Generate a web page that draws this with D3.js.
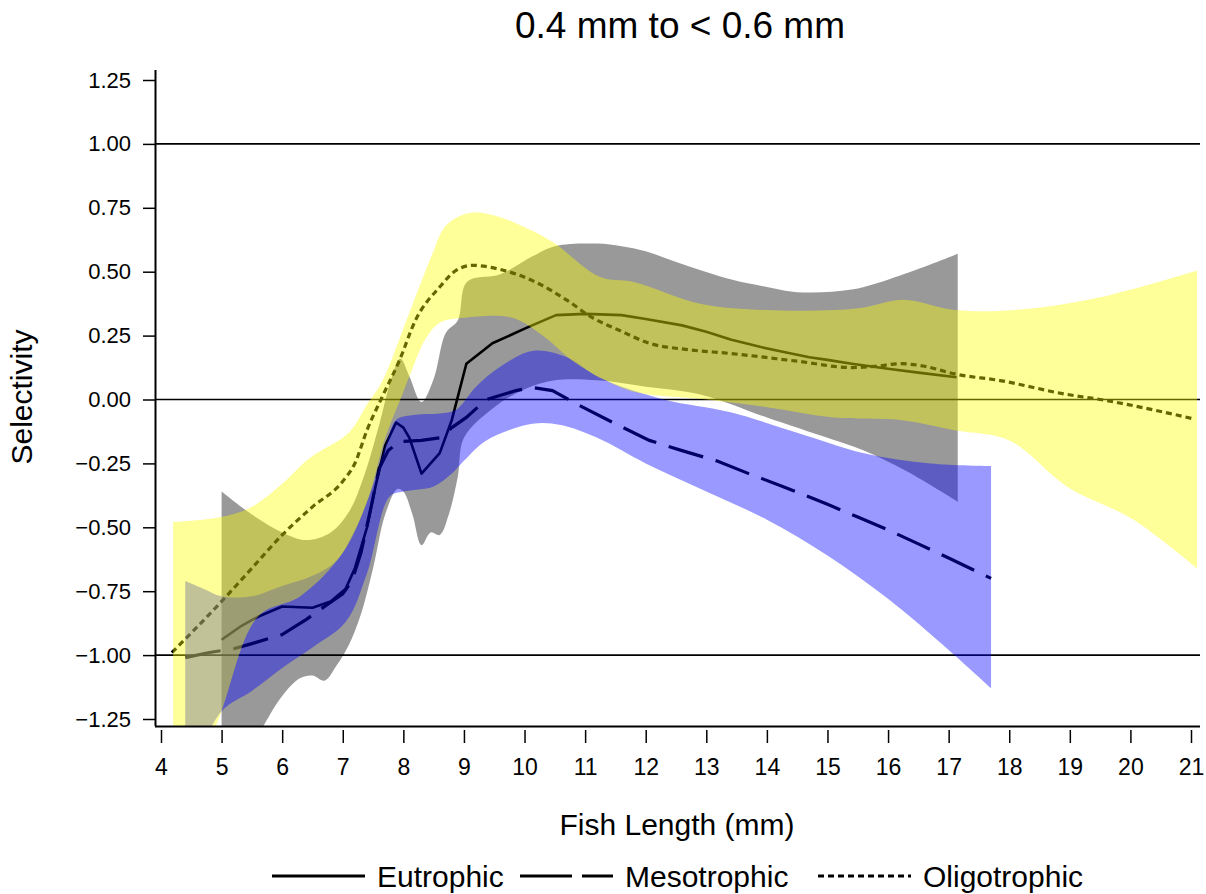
<!DOCTYPE html>
<html><head><meta charset="utf-8">
<script src="https://cdn.jsdelivr.net/npm/d3@7"></script>
<style>
html,body{margin:0;padding:0;background:#fff;}
svg{display:block;font-family:"Liberation Sans",Arial,Helvetica,sans-serif;}
</style></head>
<body>
<svg id="chart" width="1206" height="894"></svg>
<script>
// ---------------- data ----------------
const title = "0.4 mm to < 0.6 mm";
const xTicks = [4,5,6,7,8,9,10,11,12,13,14,15,16,17,18,19,20,21];
const yTicks = [-1.25,-1.00,-0.75,-0.50,-0.25,0.00,0.25,0.50,0.75,1.00,1.25];
const refLines = [-1, 0, 1];
const seriesNames = ["Eutrophic","Mesotrophic","Oligotrophic"];

const eutroLine = [[5.0,-0.94],[5.3,-0.89],[5.6,-0.85],[6.0,-0.81],[6.5,-0.815],[6.8,-0.79],[7.05,-0.74],[7.2,-0.66],[7.4,-0.50],[7.55,-0.33],[7.7,-0.18],[7.88,-0.09],[8.0,-0.11],[8.1,-0.15],[8.3,-0.29],[8.6,-0.21],[8.8,-0.08],[9.04,0.14],[9.47,0.22],[10.03,0.28],[10.52,0.33],[11.0,0.335],[11.6,0.33],[12.0,0.315],[12.6,0.29],[13.0,0.265],[13.4,0.235],[13.9,0.205],[14.3,0.185],[14.7,0.165],[15.0,0.155],[15.4,0.14],[16.0,0.12],[16.5,0.105],[17.13,0.087]];
const mesoLine = [[4.4,-1.01],[4.8,-0.99],[5.2,-0.975],[5.5,-0.955],[6.0,-0.92],[6.4,-0.86],[6.7,-0.81],[7.0,-0.76],[7.15,-0.71],[7.3,-0.6],[7.45,-0.44],[7.6,-0.27],[7.75,-0.2],[7.93,-0.165],[8.3,-0.16],[8.6,-0.15],[8.8,-0.11],[9.04,-0.07],[9.37,0.0],[9.86,0.035],[10.13,0.047],[10.46,0.035],[10.96,-0.03],[11.5,-0.095],[12.06,-0.16],[12.6,-0.2],[13.17,-0.24],[13.7,-0.29],[14.26,-0.34],[15.0,-0.41],[15.5,-0.46],[16.0,-0.51],[16.5,-0.565],[17.0,-0.62],[17.7,-0.70]];
const oligoLine = [[4.18,-0.99],[5.0,-0.79],[5.5,-0.66],[6.0,-0.53],[6.5,-0.42],[7.0,-0.32],[7.2,-0.25],[7.4,-0.12],[7.65,0.01],[7.93,0.15],[8.2,0.31],[8.6,0.44],[8.87,0.505],[9.14,0.525],[9.58,0.51],[10.13,0.465],[10.69,0.39],[11.12,0.32],[11.57,0.27],[12.06,0.22],[12.7,0.195],[13.4,0.18],[14.5,0.15],[15.4,0.125],[15.8,0.13],[16.2,0.14],[16.6,0.13],[17.1,0.10],[17.85,0.074],[18.95,0.02],[19.5,0.0],[21.03,-0.075]];

const eutroUpper = [[5.0,-0.36],[5.5,-0.45],[6.0,-0.52],[6.4,-0.55],[6.8,-0.52],[7.1,-0.44],[7.35,-0.3],[7.6,-0.1],[7.8,0.08],[7.95,0.16],[8.1,0.09],[8.3,-0.01],[8.5,0.08],[8.7,0.26],[8.9,0.31],[9.05,0.46],[9.6,0.49],[10.13,0.56],[10.5,0.6],[11.2,0.61],[11.6,0.6],[12.0,0.58],[12.6,0.53],[13.4,0.47],[14.0,0.44],[14.5,0.42],[15.4,0.43],[16.2,0.485],[17.15,0.57]];
const eutroLower = [[5.0,-1.5],[5.5,-1.35],[6.0,-1.16],[6.3,-1.09],[6.5,-1.08],[6.7,-1.1],[6.9,-1.04],[7.1,-0.96],[7.3,-0.84],[7.5,-0.66],[7.7,-0.45],[7.9,-0.35],[8.0,-0.36],[8.15,-0.45],[8.3,-0.57],[8.45,-0.52],[8.6,-0.53],[8.75,-0.45],[8.9,-0.3],[9.0,-0.15],[9.5,-0.03],[10.0,0.04],[10.5,0.075],[11.2,0.075],[12.0,0.05],[12.9,0.02],[14.0,-0.07],[15.0,-0.15],[15.6,-0.2],[16.3,-0.28],[17.15,-0.4]];

const mesoUpper = [[4.4,-0.71],[4.7,-0.74],[5.0,-0.77],[5.5,-0.77],[6.0,-0.73],[6.5,-0.69],[6.9,-0.63],[7.2,-0.51],[7.4,-0.4],[7.55,-0.3],[7.75,-0.15],[7.88,-0.08],[8.2,-0.06],[8.6,-0.055],[8.87,-0.04],[9.2,0.05],[9.58,0.125],[10.13,0.19],[10.7,0.165],[11.24,0.085],[12.3,0.0],[13.4,-0.05],[14.5,-0.13],[15.6,-0.21],[16.7,-0.25],[17.7,-0.26]];
const mesoLower = [[4.4,-1.5],[5.0,-1.22],[5.5,-1.14],[6.0,-1.05],[6.5,-0.97],[7.05,-0.87],[7.4,-0.68],[7.77,-0.38],[8.0,-0.36],[8.5,-0.34],[8.8,-0.29],[9.0,-0.24],[9.37,-0.16],[10.13,-0.095],[10.6,-0.1],[11.2,-0.15],[12.0,-0.25],[13.0,-0.36],[14.0,-0.47],[15.0,-0.61],[16.0,-0.78],[17.0,-0.98],[17.7,-1.13]];

const oligoUpper = [[4.2,-0.48],[5.0,-0.46],[5.5,-0.42],[6.0,-0.33],[6.45,-0.23],[7.1,-0.13],[7.4,-0.02],[7.65,0.07],[8.1,0.34],[8.48,0.57],[8.7,0.68],[9.09,0.73],[9.5,0.72],[10.13,0.66],[10.5,0.61],[11.24,0.48],[11.8,0.46],[12.9,0.375],[14.0,0.35],[15.1,0.35],[15.6,0.36],[16.25,0.39],[17.1,0.35],[18.1,0.35],[19.5,0.40],[21.1,0.505]];
const oligoLower = [[4.2,-1.6],[4.9,-1.28],[5.6,-0.85],[6.3,-0.77],[7.0,-0.6],[7.4,-0.4],[7.7,-0.15],[7.95,0.0],[8.15,0.12],[8.35,0.23],[8.6,0.3],[9.0,0.32],[9.8,0.32],[10.3,0.25],[10.8,0.15],[11.3,0.08],[11.8,0.03],[13.0,0.0],[14.0,-0.03],[15.1,-0.07],[16.2,-0.08],[17.1,-0.12],[18.0,-0.16],[18.95,-0.34],[20.05,-0.47],[21.1,-0.66]];

// ---------------- layout ----------------
const svg = d3.select("#chart");
const plot = {left:155, right:1200, top:70, bottom:726};
const x = d3.scaleLinear().domain([4,21]).range([161,1191]);
const y = d3.scaleLinear().domain([-1.25,1.25]).range([719,80]);

svg.append("defs").append("clipPath").attr("id","clip")
  .append("rect").attr("x",plot.left).attr("y",plot.top)
  .attr("width",plot.right-plot.left).attr("height",plot.bottom-plot.top);

const g = svg.append("g").attr("clip-path","url(#clip)");

// reference lines
g.selectAll("line.ref").data(refLines).enter().append("line")
  .attr("x1",plot.left).attr("x2",plot.right)
  .attr("y1",d=>y(d)).attr("y2",d=>y(d))
  .attr("stroke","#000").attr("stroke-width",1.6);

const poly = d3.line().x(d=>x(d[0])).y(d=>y(d[1])).curve(d3.curveLinear);
const line = d3.line().x(d=>x(d[0])).y(d=>y(d[1])).curve(d3.curveMonotoneX);
const smooth = d3.line().x(d=>x(d[0])).y(d=>y(d[1])).curve(d3.curveCatmullRom.alpha(0.5));

// lines (drawn beneath the translucent bands)
g.append("path").attr("d",poly(eutroLine)).attr("fill","none")
  .attr("stroke","#000").attr("stroke-width",2.6).attr("stroke-linejoin","round");
g.append("path").attr("d",poly(mesoLine)).attr("fill","none")
  .attr("stroke","#000").attr("stroke-width",3.2).attr("stroke-dasharray","36,13");
g.append("path").attr("d",line(oligoLine)).attr("fill","none")
  .attr("stroke","#000").attr("stroke-width",3.2).attr("stroke-dasharray","6,4");

function bandPath(up, lo){
  const a = smooth(up);
  const b = smooth(lo.slice().reverse());
  return a + "L" + b.slice(1) + "Z";
}
const bands = [
  {up:eutroUpper, lo:eutroLower, fill:"#000000"},
  {up:mesoUpper, lo:mesoLower, fill:"#0000ff"},
  {up:oligoUpper, lo:oligoLower, fill:"#ffff00"}
];
g.selectAll("path.band").data(bands).enter().append("path")
  .attr("class","band")
  .attr("d",d=>bandPath(d.up,d.lo))
  .attr("fill",d=>d.fill).attr("fill-opacity",0.4).attr("stroke","none");

// axes
const xAxis = svg.append("g").attr("transform",`translate(0,${plot.bottom})`)
  .call(d3.axisBottom(x).tickValues(xTicks).tickSize(17).tickPadding(16).tickFormat(d3.format("d")));
xAxis.select(".domain").attr("d",`M${plot.left},0.5H${plot.right}`).attr("stroke-width",2);
xAxis.selectAll(".tick line").attr("stroke-width",1.5).attr("y1",4);
xAxis.selectAll("text").attr("font-size",23).attr("fill","#000");

const yAxis = svg.append("g").attr("transform",`translate(${plot.left},0)`)
  .call(d3.axisLeft(y).tickValues(yTicks).tickSize(12).tickPadding(12).tickFormat(d3.format(".2f")));
yAxis.select(".domain").attr("d",`M0.5,${plot.top}V${plot.bottom}`).attr("stroke-width",2);
yAxis.selectAll(".tick line").attr("stroke-width",1.5);
yAxis.selectAll("text").attr("font-size",22).attr("fill","#000");

// titles
svg.append("text").attr("x",680).attr("y",38).attr("text-anchor","middle")
  .attr("font-size",37).attr("fill","#000").text(title);
svg.append("text").attr("x",677).attr("y",835).attr("text-anchor","middle")
  .attr("font-size",30).attr("fill","#000").text("Fish Length (mm)");
svg.append("text").attr("transform","translate(32,397) rotate(-90)").attr("text-anchor","middle")
  .attr("font-size",30).attr("fill","#000").text("Selectivity");

// legend
const legendItems = [
  {name:seriesNames[0], x0:272, dash:null},
  {name:seriesNames[1], x0:520, dash:"52,10"},
  {name:seriesNames[2], x0:818, dash:"6,4"}
];
const lg = svg.append("g");
legendItems.forEach(it=>{
  lg.append("line").attr("x1",it.x0).attr("x2",it.x0+93).attr("y1",876).attr("y2",876)
    .attr("stroke","#000").attr("stroke-width",3.2).attr("stroke-dasharray",it.dash);
  lg.append("text").attr("x",it.x0+105).attr("y",887).attr("font-size",30)
    .attr("fill","#000").text(it.name);
});
</script>
</body></html>
